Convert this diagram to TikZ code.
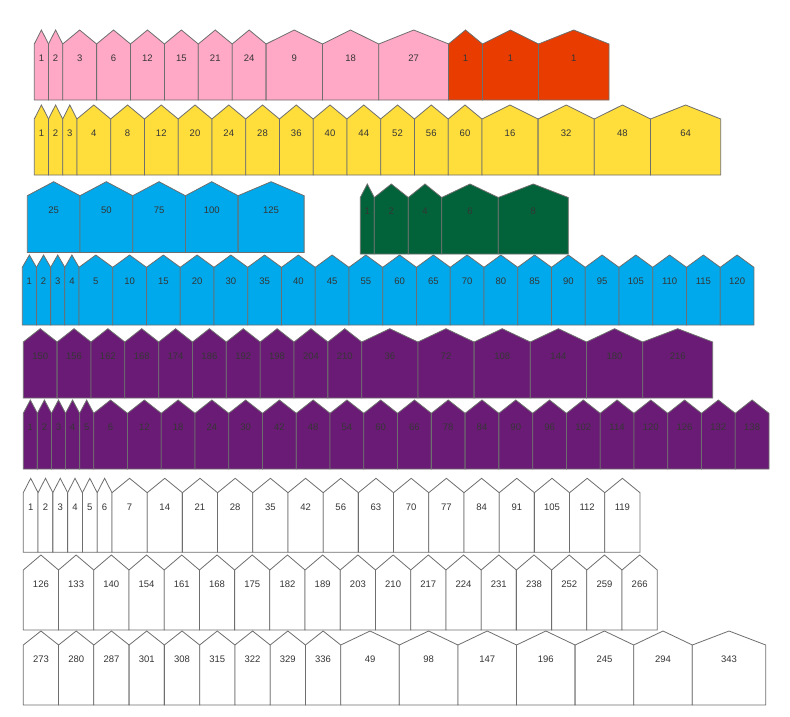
\documentclass[tikz,border=0pt]{standalone}
\usepackage{fontspec}
\setmainfont{Liberation Sans}
\usepackage{tikz}
\usetikzlibrary{calc}
\definecolor{hsPink}{HTML}{FFA9C6}
\definecolor{hsRed}{HTML}{E83C00}
\definecolor{hsYellow}{HTML}{FFDE3C}
\definecolor{hsBlue}{HTML}{00A9EB}
\definecolor{hsGreen}{HTML}{02633A}
\definecolor{hsPurple}{HTML}{6A1B75}
\definecolor{hsEdge}{HTML}{6E6E6E}
\definecolor{hsText}{HTML}{353535}
\tikzset{
  house/.style    = {draw=hsEdge, line width=0.8pt, line join=miter},
  pinkhouse/.style   = {house, fill=hsPink},
  redhouse/.style    = {house, fill=hsRed},
  yellowhouse/.style = {house, fill=hsYellow},
  bluehouse/.style   = {house, fill=hsBlue},
  greenhouse/.style  = {house, fill=hsGreen},
  purplehouse/.style = {house, fill=hsPurple},
  whitehouse/.style  = {house, fill=white},
  houselbl/.style = {font=\fontsize{9.5}{11}\selectfont, text=hsText, inner sep=0pt,
                     text height=6.8pt, text depth=0pt},
}
% one row of houses: prefix, style, left x, bottom, shoulder, peak, width/label list
\newcommand{\houserow}[7]{%
  \xdef\hx{#3}%
  \foreach \w/\lab [count=\i] in {#7}{
    \pgfmathsetmacro{\hr}{\hx+\w}
    \pgfmathsetmacro{\hm}{\hx+\w/2}
    \draw[#2] (\hx,#4) -- (\hx,#5) -- (\hm,#6) -- (\hr,#5) -- (\hr,#4) -- cycle;
    \node[houselbl] (#1-\i) at (\hm,{#5+14}) {\lab};
    \xdef\hx{\hr}
  }%
}
\begin{document}
\begin{tikzpicture}[x=1pt, y=-1pt]
  \useasboundingbox (0,0) rectangle (790,717);

  % pink and red
  \houserow{pink}{pinkhouse}{34.3}{100}{44}{30}{14.2/1,14.2/2,33.9/3,33.9/6,33.9/12,33.9/15,33.9/21,33.9/24,56.3/9,56.3/18,70/27}
  \houserow{red}{redhouse}{448.5}{100}{44}{30}{34/1,56/1,70.5/1}

  % yellow
  \houserow{yel}{yellowhouse}{34.3}{175}{119}{105}{14.2/1,14.2/2,14.2/3,33.75/4,33.75/8,33.75/12,33.75/20,33.75/24,33.75/28,33.75/36,33.75/40,33.75/44,33.75/52,33.75/56,33.75/60,56.2/16,56.2/32,56.2/48,70.2/64}

  % blue and green
  \houserow{sky}{bluehouse}{27.3}{252.5}{195.7}{181.7}{52.7/25,52.7/50,52.7/75,52.7/100,66/125}
  \houserow{grn}{greenhouse}{360.3}{254}{197.5}{184}{14/1,34/2,33.4/4,56.6/6,70/8}

  % blue
  \houserow{blu}{bluehouse}{22.3}{325}{267.3}{255}{14.17/1,14.17/2,14.17/3,14.17/4,33.75/5,33.75/10,33.75/15,33.75/20,33.75/30,33.75/35,33.75/40,33.75/45,33.75/55,33.75/60,33.75/65,33.75/70,33.75/80,33.75/85,33.75/90,33.75/95,33.75/105,33.75/110,33.75/115,33.75/120}

  % purple
  \houserow{pur}{purplehouse}{23.3}{398}{342}{328.7}{33.84/150,33.84/156,33.84/162,33.84/168,33.84/174,33.84/186,33.84/192,33.84/198,33.84/204,33.84/210,56.2/36,56.2/72,56.2/108,56.2/144,56.2/180,70/216}
  \houserow{lil}{purplehouse}{23.3}{469}{413.3}{400}{14.08/1,14.08/2,14.08/3,14.08/4,14.08/5,33.765/6,33.765/12,33.765/18,33.765/24,33.765/30,33.765/42,33.765/48,33.765/54,33.765/60,33.765/66,33.765/78,33.765/84,33.765/90,33.765/96,33.765/102,33.765/114,33.765/120,33.765/126,33.765/132,33.765/138}

  % white
  \houserow{wa}{whitehouse}{23.3}{552.3}{492.7}{478.3}{14.78/1,14.78/2,14.78/3,14.78/4,14.78/5,14.78/6,35.2/7,35.2/14,35.2/21,35.2/28,35.2/35,35.2/42,35.2/56,35.2/63,35.2/70,35.2/77,35.2/84,35.2/91,35.2/105,35.2/112,35.2/119}
  \houserow{wb}{whitehouse}{23.3}{630}{570}{555}{35.22/126,35.22/133,35.22/140,35.22/154,35.22/161,35.22/168,35.22/175,35.22/182,35.22/189,35.22/203,35.22/210,35.22/217,35.22/224,35.22/231,35.22/238,35.22/252,35.22/259,35.22/266}
  \houserow{wc}{whitehouse}{23.3}{705}{645}{631}{35.27/273,35.27/280,35.27/287,35.27/301,35.27/308,35.27/315,35.27/322,35.27/329,35.27/336,58.6/49,58.6/98,58.6/147,58.6/196,58.6/245,58.6/294,73.4/343}
\end{tikzpicture}
\end{document}
